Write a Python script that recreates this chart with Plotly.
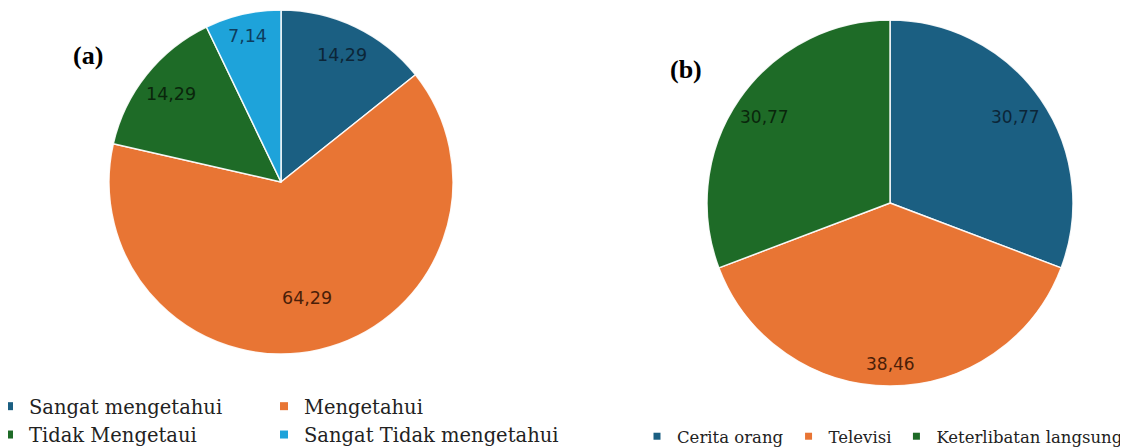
import math
import plotly.graph_objects as go

# Pie (a)
labels_a = ["Sangat mengetahui", "Mengetahui", "Tidak Mengetaui", "Sangat Tidak mengetahui"]
values_a = [14.29, 64.29, 14.29, 7.14]
colors_a = ["#1b5f82", "#e87534", "#1e6b27", "#1ea3da"]
textcolors_a = ["#0c2638", "#4a1e08", "#0a260c", "#0d3d5e"]

# Pie (b)
labels_b = ["Cerita orang", "Televisi", "Keterlibatan langsung"]
values_b = [30.77, 38.46, 30.77]
colors_b = ["#1b5f82", "#e87534", "#1e6b27"]
textcolors_b = ["#0c2638", "#4a1e08", "#0a260c"]


def fmt(v):
    return f"{v:.2f}".replace(".", ",")


# the page body adds an 8px offset; size the figure to the visible area
OFF = 8
W, H = 1128 - OFF, 447 - OFF
ML, MR = 100, 50
GW = W - ML - MR


def px(X):
    # screen x -> paper x
    return (X - OFF - ML) / GW


def py(Y):
    # screen y -> paper y
    return (H - (Y - OFF)) / H


dom_a = dict(x=[px(109), px(453)], y=[py(354), py(10)])
dom_b = dict(x=[px(707), px(1073)], y=[py(386), py(20)])


def label_annotations(values, textcolors, dom, size):
    # place each value label along its slice bisector (clockwise from 12 o'clock)
    x0 = ML + dom["x"][0] * GW
    x1 = ML + dom["x"][1] * GW
    y0 = H - dom["y"][1] * H
    y1 = H - dom["y"][0] * H
    cx, cy = (x0 + x1) / 2, (y0 + y1) / 2
    r = min(x1 - x0, y1 - y0) / 2
    total = sum(values)
    cum = 0.0
    anns = []
    for v, c in zip(values, textcolors):
        theta = 2 * math.pi * (cum + v / 2) / total
        cum += v
        share = v / total
        if share > 0.5:
            f = 0.69
        elif share > 0.35:
            f = 0.88
        elif share > 0.2:
            f = 0.83
        elif share > 0.1:
            f = 0.82
        else:
            f = 0.87
        x = cx + f * r * math.sin(theta)
        y = cy - f * r * math.cos(theta)
        anns.append(dict(text=fmt(v), x=(x - ML) / GW, y=(H - y) / H,
                         xref="paper", yref="paper", showarrow=False,
                         xanchor="center", yanchor="middle",
                         font=dict(family="DejaVu Sans", size=size, color=c)))
    return anns


fig = go.Figure()
fig.add_trace(go.Pie(
    labels=labels_a, values=values_a, textinfo="none",
    sort=False, direction="clockwise", rotation=0, showlegend=False,
    marker=dict(colors=colors_a, line=dict(color="rgba(255,255,255,0.9)", width=1.5)),
    domain=dom_a, hoverinfo="label+value",
))
fig.add_trace(go.Pie(
    labels=labels_b, values=values_b, textinfo="none",
    sort=False, direction="clockwise", rotation=0, showlegend=False,
    marker=dict(colors=colors_b, line=dict(color="rgba(255,255,255,0.9)", width=1.5)),
    domain=dom_b, hoverinfo="label+value",
))

# legend entries (two columns for chart a, one row for chart b)
for i, (lab, col) in enumerate(zip(labels_a, colors_a)):
    fig.add_trace(go.Scatter(
        x=[None], y=[None], mode="markers", name=lab,
        marker=dict(symbol="square", size=8, color=col),
        legend="legend" if i % 2 == 0 else "legend2", hoverinfo="skip",
    ))
for lab, col in zip(labels_b, colors_b):
    fig.add_trace(go.Scatter(
        x=[None], y=[None], mode="markers", name=lab,
        marker=dict(symbol="square", size=7, color=col),
        legend="legend3", hoverinfo="skip",
    ))

annotations = label_annotations(values_a, textcolors_a, dom_a, 17.5)
annotations += label_annotations(values_b, textcolors_b, dom_b, 17)
annotations += [
    dict(text="<b>(a)</b>", x=px(88), y=py(55), xref="paper", yref="paper",
         xanchor="center", yanchor="middle", showarrow=False,
         font=dict(family="Liberation Serif", size=26, color="black")),
    dict(text="<b>(b)</b>", x=px(686), y=py(70), xref="paper", yref="paper",
         xanchor="center", yanchor="middle", showarrow=False,
         font=dict(family="Liberation Serif", size=26, color="black")),
]

legend_font_a = dict(family="DejaVu Serif", size=19.5, color="#222222")
legend_font_b = dict(family="DejaVu Serif", size=16.5, color="#222222")

fig.update_layout(
    width=W, height=H,
    margin=dict(l=ML, r=MR, t=0, b=0, autoexpand=False),
    paper_bgcolor="white", plot_bgcolor="white",
    xaxis=dict(visible=False), yaxis=dict(visible=False),
    legend=dict(
        orientation="v", x=px(-11), xanchor="left", y=py(387), yanchor="top",
        font=legend_font_a, bgcolor="rgba(0,0,0,0)", traceorder="normal",
    ),
    legend2=dict(
        orientation="v", x=px(264), xanchor="left", y=py(387), yanchor="top",
        font=legend_font_a, bgcolor="rgba(0,0,0,0)", traceorder="normal",
    ),
    legend3=dict(
        orientation="h", x=px(637), xanchor="left", y=py(419), yanchor="top",
        font=legend_font_b, bgcolor="rgba(0,0,0,0)", traceorder="normal",
    ),
    annotations=annotations,
)

fig.write_html("out.html")
